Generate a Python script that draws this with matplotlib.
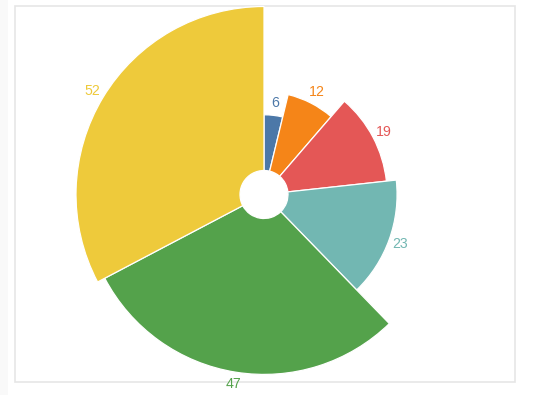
import numpy as np
import matplotlib
matplotlib.use("Agg")
import matplotlib.pyplot as plt
from matplotlib.patches import Wedge, Rectangle

values = [6, 12, 19, 23, 47, 52]
colors = ["#4c78a8", "#f58518", "#e45756", "#72b7b2", "#54a24b", "#eeca3b"]

W, H = 533, 395
cx, cy = 264, H - 194.5   # centre in pixel coords (y up)
r_in = 24
r_span = 164

fig = plt.figure(figsize=(W / 100, H / 100), dpi=100)
ax = fig.add_axes([0, 0, 1, 1])
ax.set_xlim(0, W)
ax.set_ylim(0, H)
ax.axis("off")

# light page strip and frame
ax.add_patch(Rectangle((0, 0), 7.5, H, facecolor="#f9f9f9", edgecolor="none"))
ax.add_patch(Rectangle((14.7, H - 382), 500, 376, facecolor="white",
                       edgecolor="#e6e6e6", linewidth=1.2))

total = sum(values)
vmax = max(values)
start = 0.0
for v, c in zip(values, colors):
    span = v / total * 360
    r = r_in + r_span * np.sqrt(v / vmax)
    # clockwise from 12 o'clock
    ax.add_patch(Wedge((cx, cy), r, 90 - (start + span), 90 - start,
                       width=r - r_in, facecolor=c, edgecolor="white",
                       linewidth=0.9))
    mid = np.radians(start + span / 2)
    rl = r + 12
    ax.text(cx + rl * np.sin(mid), cy + rl * np.cos(mid), str(v),
            color=c, fontsize=10.2, family="Liberation Sans",
            ha="center", va="center")
    start += span

fig.savefig("out.png", dpi=100)
